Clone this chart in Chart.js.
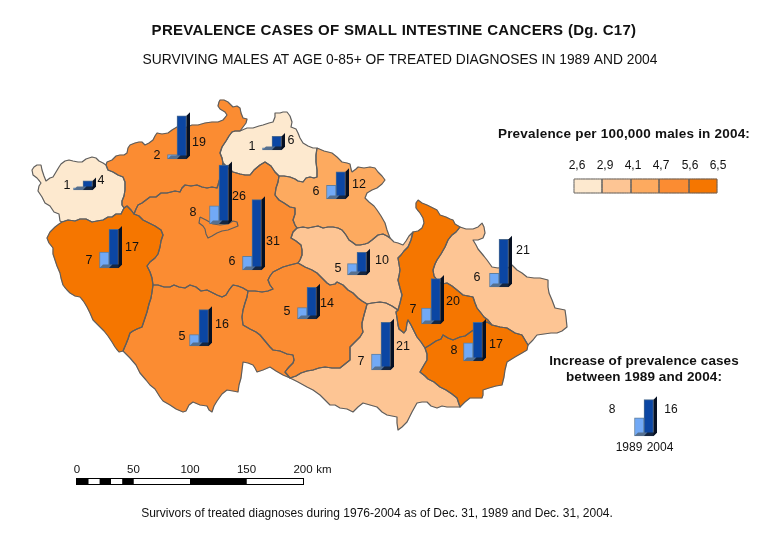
<!DOCTYPE html>
<html><head><meta charset="utf-8">
<style>html,body{margin:0;padding:0;background:#fff}canvas{display:block}</style>
<script src="https://cdn.jsdelivr.net/npm/chart.js@4/dist/chart.umd.min.js"></script>
</head><body><canvas id="c" width="770" height="537"></canvas>
<script>
// ---------- data ----------
const regions = ['Karlovy Vary','Usti','Prague','Central Bohemia','Liberec','Plzen','Hradec Kralove','Pardubice','Vysocina','South Bohemia','South Moravia','Olomouc','Zlin','Moravia-Silesia'];
const cases1989 = [1,2,8,6,1,7,6,5,5,5,7,7,8,6];
const cases2004 = [4,19,26,31,6,17,12,10,14,16,21,20,17,21];
const legend1989 = 8, legend2004 = 16;
const prevalenceTicks = ['2,6','2,9','4,1','4,7','5,6','6,5'];
const rampColors = ['#fde9cf','#fdc594','#fdaa5f','#fb8c32','#f57600'];
const regionClass = [0,3,2,3,0,4,2,1,3,3,1,4,4,1];
const scaleKm = [0,10,20,30,40,50,100,150,200];
const scaleLabels = [0,50,100,150,200];

// map placement (canvas-like map coordinates)
const clusterX = [83,177,219,252,272,109,336,357,307,199,381,431,473,499];
const clusterBase = [190,159,224,270,150,268,199,275,319,346,370,324,361,287];
const labelLeft = [[67,186],[157,156],[193,213],[232,262],[252,147],[89,261],[316,192],[338,269],[287,312],[182,337],[361,362],[413,310],[454,351],[477,278]];
const labelRight = [[101,181],[199,143],[239,197],[273,242],[291,141],[132,248],[359,185],[382,261],[327,304],[222,325],[403,347],[453,302],[496,345],[523,251]];

// boundary arcs
const kvOuter=[62,222,60,221,59,214,54,212,50,206,45,203,42,197,38,191,39,186,41,183,37,178,33,175,32,170,34,167,37,165,41,165,42,170,44,176,46,181,50,178,53,177,56,172,59,167,61,164,65,161,69,160,73,161,78,162,82,162,86,159,92,157,96,158,99,161,103,163,106,165];
const kvUsti=[106,165,108,170,113,172,118,175,123,177,125,182,125,190,124,196,122,201,122,205,124,208];
const kvPlzen=[124,208,121,214,116,214,112,217,108,217,103,220,97,221,92,222,86,219,80,219,75,221,68,220,62,222];
const usPlzen=[124,208,127,206,131,210,134,214];
const usNorth=[106,165,107,162,112,160,116,156,120,155,124,155,127,153,128,148,130,145,135,143,139,142,142,142,145,145,149,143,153,140,155,136,157,133,162,134,168,133,172,130,177,127,183,128,187,127,192,125,198,125,205,123,212,122,218,122,223,120,227,115,225,112,220,109,218,106,219,102,220,100,224,100,228,102,231,105,233,107,237,106,240,108,241,113,243,118,247,119,246,123,243,127,240,131];
const usLib=[240,131,235,131,232,132,229,136,226,141,222,147,221,150,220,153,222,158,223,163];
const usCen=[223,163,222,170,220,178,218,185,217,188,212,187,207,188,202,187,197,185,191,186,185,185,182,188,180,192,175,191,167,193,161,193,156,197,150,197,146,200,142,203,138,205,136,209,134,214];
const libNorth=[240,131,247,128,253,128,259,126,263,125,269,123,273,122,275,117,275,113,280,113,283,112,287,112,290,116,292,122,291,127,296,129,298,133,300,138,303,143,308,146,313,148,317,148];
const libSouth=[223,163,228,168,233,172,240,174,245,175,250,175,254,170,260,165,265,162,271,166,275,172,279,176];
const libHr=[279,176,284,176,290,177,295,179,298,181,303,182,306,178,310,177,314,178,317,177,317,170,316,162,316,155,317,148];
const cenHr=[279,176,278,182,276,188,275,195,279,200,284,203,290,207,295,208,295,214,293,220,295,225,297,228];
const cenPar=[297,228,293,232,291,238,296,241,301,245,302,250,302,255,300,260,298,263];
const cenVys=[298,263,290,265,283,267,277,270,273,272,270,276,268,280,270,285,273,289,268,291,262,292,255,291,248,291];
const cenSb=[248,291,243,288,238,286,233,285,229,290,226,295,222,297,217,295,213,293,207,290,201,291,196,287,190,285,185,288,179,287,174,285,170,287,164,287,158,285,153,285];
const cenPl=[153,285,152,278,150,272,147,266,150,262,155,258,158,254,160,247,161,241,163,235,161,230,155,226,149,223,143,220,139,216,134,214];
const hrNorth=[317,148,324,151,332,153,337,157,342,162,347,163,350,164,351,169,352,172,356,169,358,167,364,168,370,167,375,168,378,172,382,176,385,180,382,184,377,188,372,190,367,193,365,198,369,202,374,206,377,210,381,216,385,223,387,230,390,238];
const hrPar=[297,228,303,227,308,228,313,227,318,226,323,228,328,227,333,227,338,228,342,230,346,235,349,240,352,242,356,245,360,245,365,244,368,243,372,240,378,235,383,234,387,236,390,238];
const parOl=[390,238,394,242,398,243,403,245,406,241,409,236,413,232];
const parOl2=[413,232,411,240,408,247,404,251,401,255,398,258,399,264,400,270,399,276,398,280,400,288,402,295,400,303,398,310];
const olOuter=[413,232,418,231,422,228,424,223,423,218,420,213,416,208,416,203,418,200,422,203,427,205,431,207,437,210,440,215,446,217,450,219,453,220,455,224,460,227];
const msOuter=[460,227,466,229,473,229,478,227,482,223,484,227,485,233,483,238,478,240,473,240,476,245,478,249,483,255,487,260,492,267,498,268,503,267,508,268,512,265,517,270,522,273,527,277,534,278,540,278,548,280,548,287,549,293,552,300,555,308,560,309,565,310,566,317,567,327,562,331,557,333,551,333,544,334,537,335,533,340,528,345];
const msZl=[528,345,525,340,522,335,515,333,507,328,500,327,492,325];
const olMs=[460,227,456,232,452,235,448,240,445,247,441,254,437,260,435,264,433,270,434,276,438,281,442,284,447,283,452,286,457,290,463,295,468,296,473,297,475,303,477,308,481,313,484,317,488,320,492,325];
const olSm=[398,310,396,312,397,318,398,325,399,329,404,333,406,330,407,323,408,320,411,325,414,331,417,337,421,342,425,348];
const olZl=[492,325,487,322,480,326,472,331,465,336,460,337,453,340,448,338,443,335,441,339,436,341,430,345,425,348];
const zlOuter=[528,345,527,350,522,353,515,357,507,362,505,370,504,377,502,385,496,386,489,388,483,390,483,395,482,398,476,398,470,398,465,402,460,407];
const zlSm=[425,348,427,354,427,360,424,365,420,372,425,376,428,379,434,382,440,387,446,390,452,394,457,398,460,407];
const smOuter=[460,407,454,407,447,407,442,406,437,408,431,406,427,402,422,402,417,403,412,412,407,422,402,427,398,430,397,423,397,417,392,416,387,415,382,412,377,407,370,405,363,403,358,407,353,412,347,409,340,408,335,405,330,405,325,400,320,395,313,390,307,387,298,382,290,378];
const vysSm=[290,378,296,376,301,373,307,371,313,370,319,368,325,367,332,368,340,368,345,364,350,360,350,354,350,347,355,342,360,337,363,332,362,327,362,323,364,315,366,308,367,304];
const parSm=[367,304,372,303,380,302,386,303,392,306,398,310];
const vysPar=[298,263,305,267,312,270,317,273,322,278,327,283,330,285,335,284,337,282,343,285,348,290,353,293,358,298,362,301,367,304];
const vysSb=[248,291,247,297,245,303,243,310,242,317,243,325,250,329,256,332,260,335,265,341,270,347,273,350,280,351,287,354,293,355,294,360,293,363,289,367,285,372,290,378];
const sbOuter=[290,378,283,375,276,371,270,367,263,370,257,372,255,368,253,365,248,363,243,362,242,370,241,378,239,385,238,392,233,391,227,390,222,394,217,401,214,406,212,412,209,410,207,406,200,405,193,402,189,405,186,411,183,412,176,409,170,405,163,401,160,397,155,389,150,385,146,380,140,373,136,365,130,358,126,354,123,351];
const plSb=[153,285,152,292,151,298,149,304,147,312,145,318,142,327,137,329,133,331,130,333,128,339,126,344,123,351];
const plOuter=[123,351,119,352,115,347,112,342,108,336,104,331,98,325,93,320,90,313,87,307,84,302,80,297,75,296,70,293,67,290,63,285,61,278,60,273,57,266,55,260,53,254,53,248,49,243,47,238,50,232,55,227,59,224,62,222];
const pragueRing=[200,217,206,220,213,224,220,225,228,224,233,221,237,222,238,226,233,228,228,230,222,231,217,233,212,236,208,238,206,234,205,229,203,226,199,223,200,217];

// ---------- helpers ----------
const R = a => { const o=[]; for(let i=a.length-2;i>=0;i-=2) o.push(a[i],a[i+1]); return o; };
const ring = (...arcs) => { const p=[]; arcs.forEach(a=>{ for(let i=0;i<a.length;i+=2) p.push({x:a[i],y:a[i+1]}); }); return p; };
const regionRings = [
  ring(kvOuter,kvUsti,kvPlzen),
  ring(usNorth,usLib,usCen,R(usPlzen),R(kvUsti)),
  ring(pragueRing),
  ring(libSouth,cenHr,cenPar,cenVys,cenSb,cenPl,R(usCen)),
  ring(libNorth,R(libHr),R(libSouth),R(usLib)),
  ring(usPlzen,R(cenPl),plSb,plOuter,R(kvPlzen)),
  ring(hrNorth,R(hrPar),R(cenHr),libHr),
  ring(hrPar,parOl,parOl2,R(parSm),R(vysPar),R(cenPar)),
  ring(R(cenVys),vysPar,R(vysSm),R(vysSb)),
  ring(R(cenSb),vysSb,sbOuter,R(plSb)),
  ring(parSm,olSm,zlSm,smOuter,vysSm),
  ring(R(parOl2),olOuter,olMs,olZl,R(olSm)),
  ring(R(olZl),R(msZl),zlOuter,R(zlSm)),
  ring(msOuter,msZl,R(olMs))
];
const UNIT = 2.27, BORDER = '#5e5e5e';
const shape = (pts,color) => ({type:'line',data:pts,fill:'shape',backgroundColor:color,borderColor:color,borderWidth:0.5,pointRadius:0,tension:0.001,order:7});
const outline = (pts,w) => ({type:'line',data:pts.concat([pts[0]]),fill:false,borderColor:BORDER,borderWidth:w,pointRadius:0,tension:0.001,order:6,borderJoinStyle:'round'});
// Prague sits on top of Central Bohemia; all fills first, then all outlines
const order = [0,1,3,4,5,6,7,8,9,10,11,12,13,2];
const mapSets = order.map(i => shape(regionRings[i], rampColors[regionClass[i]]));
const mapLines = order.map(i => outline(regionRings[i],1.2));

// colour ramp
const rampX = [574,602,631,659,689,717], rampTop = 179, rampBottom = 193;
const rampRects = rampColors.map((c,i)=>[{x:rampX[i],y:rampTop},{x:rampX[i+1],y:rampTop},{x:rampX[i+1],y:rampBottom},{x:rampX[i],y:rampBottom}]);
const rampSets = rampRects.map((r,i)=>shape(r,rampColors[i]));
const rampLines = rampRects.map(r=>outline(r,1));

// scale bar
const kmX = km => 77 + km*1.13, scaleY = 481.5;
const scaleSets = [{type:'line',data:[{x:kmX(0)-1,y:scaleY},{x:kmX(200)+1,y:scaleY}],borderColor:'#000',borderWidth:7,pointRadius:0,tension:0.001,fill:false,order:4,borderCapStyle:'butt'}]
  .concat(scaleKm.slice(0,-1).map((km,i)=>({type:'line',data:[{x:kmX(km),y:scaleY},{x:kmX(scaleKm[i+1]),y:scaleY}],borderColor:i%2?'#fff':'#000',borderWidth:5,pointRadius:0,tension:0.001,fill:false,order:3,borderCapStyle:'butt'})));

// bars
const xs = clusterX.concat([644]), bases = clusterBase.concat([436]);
const bar = (vals,fill,edge) => ({type:'bar',order:1,data:vals.map((v,i)=>({x:xs[i],y:[bases[i],bases[i]-v*UNIT]})),backgroundColor:fill,borderColor:edge,borderWidth:1,borderSkipped:false,barThickness:9.5});
const bar89 = bar(cases1989.concat([legend1989]),'#71a9f6','#5f7f9f');
const bar04 = bar(cases2004.concat([legend2004]),'#0b46a3','#4a6a90');

// ---------- 3D faces + text ----------
const D = 3.5;
const faces = {id:'faces',afterDatasetsDraw(chart){
  const c = chart.ctx; c.save();
  const poly=(pts,col)=>{c.beginPath();pts.forEach((p,i)=>i?c.lineTo(p[0],p[1]):c.moveTo(p[0],p[1]));c.closePath();c.fillStyle=col;c.fill();};
  const n = chart.data.datasets.length;
  [[n-2,'#56708f',null],[n-1,'#16263f','#061022']].forEach(([idx,cap,side])=>{
    chart.getDatasetMeta(idx).data.forEach(b=>{
      const l=b.x-b.width/2,r=b.x+b.width/2,t=b.y,bm=b.base;
      poly([[l,t],[l+D,t-D],[r+D,t-D],[r,t]],cap);
      if(side) poly([[r,t],[r+D,t-D],[r+D,bm-D],[r,bm]],side);
    });
  });
  c.restore();
}};
const text = {id:'text',afterDraw(chart){
  const c = chart.ctx; c.save(); c.textBaseline='middle'; c.textAlign='center'; c.fillStyle='#111';
  const F='"Liberation Sans", Arial, sans-serif';
  const t=(s,x,y,font,ls)=>{c.font=font+' '+F;c.letterSpacing=(ls||0)+'px';c.fillText(s,x,y);};
  t('PREVALENCE CASES OF SMALL INTESTINE CANCERS (Dg. C17)',394,31,'bold 15px',0.3);
  t('SURVIVING MALES AT AGE 0-85+ OF TREATED DIAGNOSES IN 1989 AND 2004',400,60,'13.8px',0);
  t('Prevalence per 100,000 males in 2004:',624,134,'bold 13.5px',0.2);
  t('Increase of prevalence cases',644,361,'bold 13.5px',0.1);
  t('between 1989 and 2004:',644,377,'bold 13.5px',0.1);
  t('Survivors of treated diagnoses during 1976-2004 as of Dec. 31, 1989 and Dec. 31, 2004.',377,514,'12px',0);
  const rampLabelX=[577,605,633,661,690,718];
  prevalenceTicks.forEach((s,i)=>t(s,rampLabelX[i],166,'12px'));
  t(String(legend1989),612,410,'12px'); t(String(legend2004),671,410,'12px');
  t('1989',629,448,'12px'); t('2004',660,448,'12px');
  scaleLabels.forEach(km=>t(String(km),kmX(km),470,'11.5px'));
  t('km',324,470,'11.5px');
  cases1989.forEach((v,i)=>t(String(v),labelLeft[i][0],labelLeft[i][1],'12.5px'));
  cases2004.forEach((v,i)=>t(String(v),labelRight[i][0],labelRight[i][1],'12.5px'));
  c.restore();
}};

new Chart(document.getElementById('c'),{
  type:'bar',
  data:{datasets:[...mapSets,...mapLines,...rampSets,...rampLines,...scaleSets,bar89,bar04]},
  options:{
    responsive:false,animation:false,devicePixelRatio:1,
    layout:{padding:0},
    plugins:{legend:{display:false},tooltip:{enabled:false},title:{display:false}},
    scales:{
      x:{type:'linear',min:0,max:770,display:false,offset:false,grid:{display:false}},
      y:{type:'linear',min:0,max:537,reverse:true,display:false,grid:{display:false}}
    }
  },
  plugins:[faces,text]
});
</script></body></html>
